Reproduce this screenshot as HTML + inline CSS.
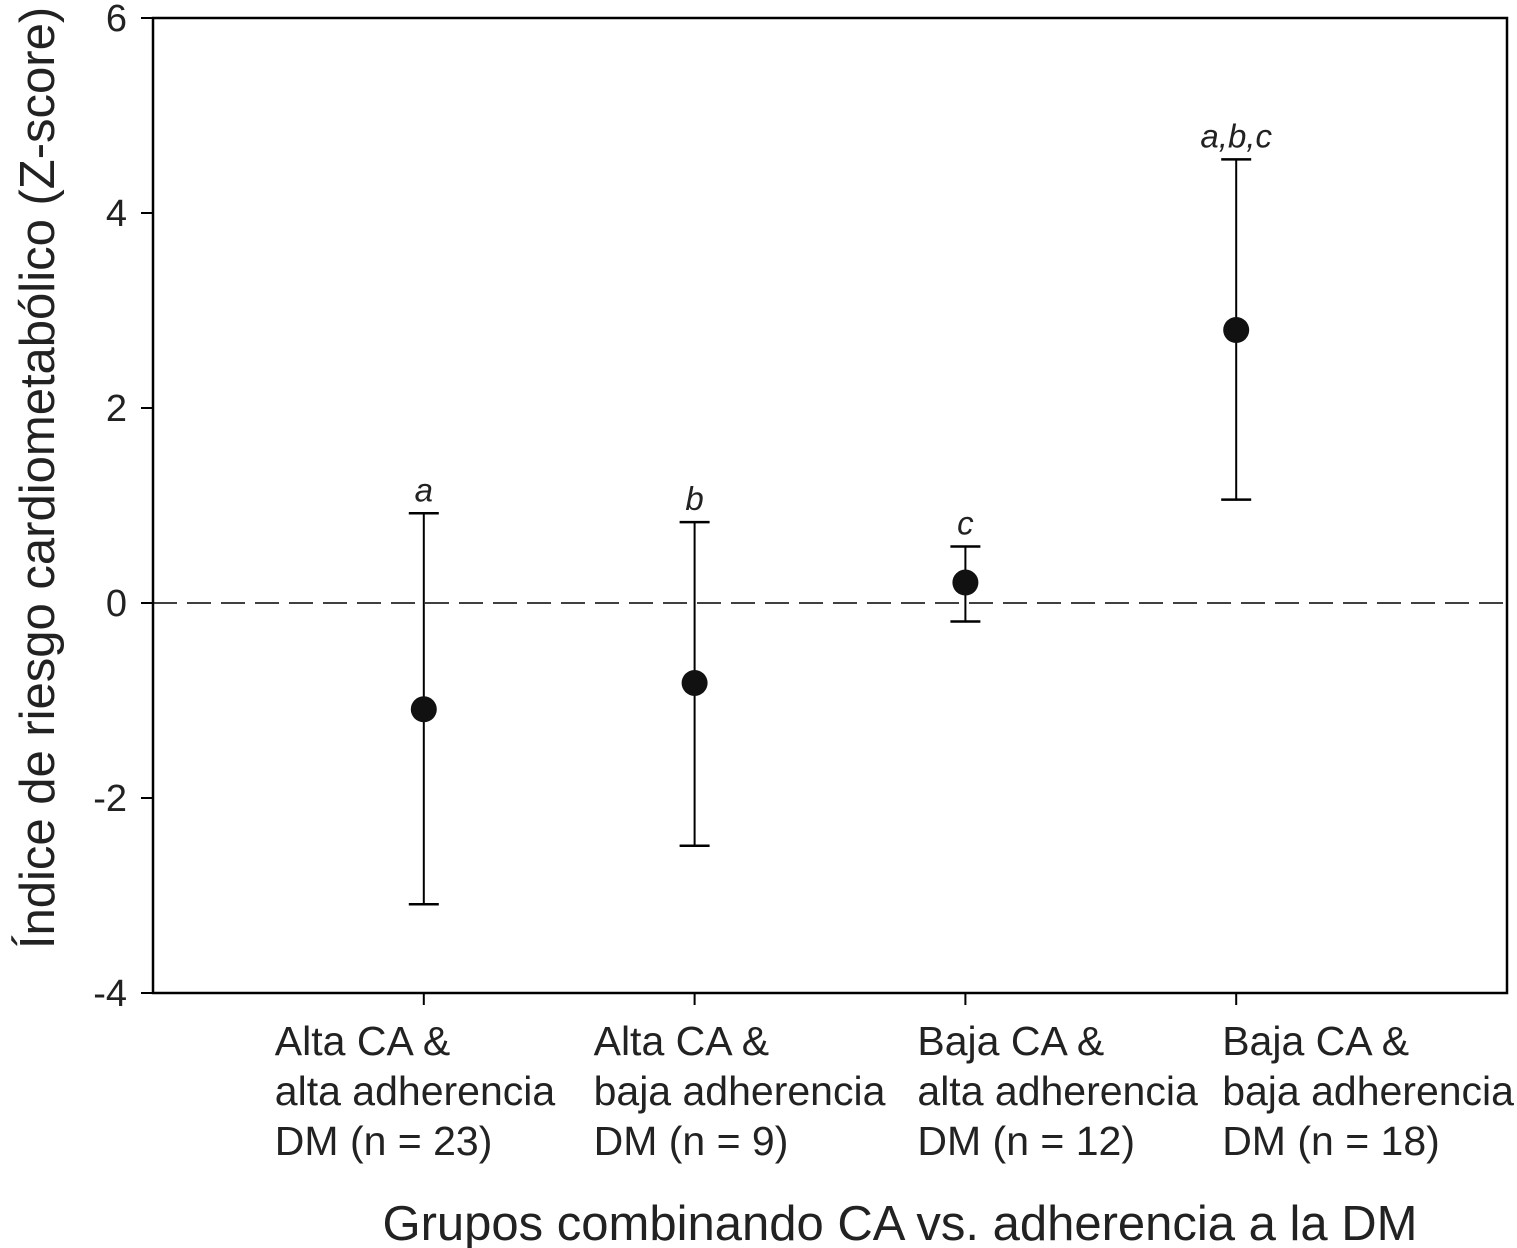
<!DOCTYPE html>
<html><head><meta charset="utf-8">
<style>
html,body{margin:0;padding:0;background:#fff;}
svg{display:block;font-family:"Liberation Sans",sans-serif;}
</style></head>
<body>
<svg id="chart" width="1517" height="1248" viewBox="0 0 1517 1248" xmlns="http://www.w3.org/2000/svg"></svg>
<script>
const categories = [
  ["Alta CA &","alta adherencia","DM (n = 23)"],
  ["Alta CA &","baja adherencia","DM (n = 9)"],
  ["Baja CA &","alta adherencia","DM (n = 12)"],
  ["Baja CA &","baja adherencia","DM (n = 18)"]
];
const means = [-1.09, -0.82, 0.21, 2.80];
const upper = [0.92, 0.83, 0.58, 4.55];
const lower = [-3.09, -2.49, -0.19, 1.06];
const sigLabels = ["a","b","c","a,b,c"];
const yTicks = [6,4,2,0,-2,-4];

const L=153,R=1507,T=18,B=993;
const yMin=-4,yMax=6;
const y=v=>T+(yMax-v)/(yMax-yMin)*(B-T);
const x=i=>L+(i+1)/5*(R-L);
const labelOffsets=[-149,-101,-48,-14];
const svg=document.getElementById('chart');
const NS='http://www.w3.org/2000/svg';
function mk(tag,attrs,parent){const e=document.createElementNS(NS,tag);for(const k in attrs)e.setAttribute(k,attrs[k]);(parent||svg).appendChild(e);return e;}

const frame=mk('rect',{x:L,y:T,width:R-L,height:B-T,fill:'none',stroke:'#000','stroke-width':2.5});



const zl=mk('line',{x1:L,x2:R,y1:y(0),y2:y(0),stroke:'#000','stroke-width':1.5,'stroke-dasharray':'24,10'});



yTicks.forEach(v=>{
  const t=mk('line',{x1:L-12,x2:L,y1:y(v),y2:y(v),stroke:'#000','stroke-width':2});
  
  
  const lb=mk('text',{x:L-26,y:y(v)+13,'text-anchor':'end','font-size':38,fill:'#222'});
  lb.textContent=v;
  
  
});

categories.forEach((c,i)=>{
  const t=mk('line',{x1:x(i),x2:x(i),y1:B,y2:B+12,stroke:'#000','stroke-width':2});
  
  
  const lx=x(i)+labelOffsets[i];
  const tx=mk('text',{x:lx,y:1055,'font-size':41,fill:'#222'});
  
  
  c.forEach((line,j)=>{const ts=mk('tspan',{x:lx,dy:j?50:0},tx);ts.textContent=line;});
});

means.forEach((m,i)=>{
  const cx=x(i);
  const g=mk('g',{});
  
  
  const v=mk('line',{x1:cx,x2:cx,y1:y(upper[i]),y2:y(lower[i]),stroke:'#000','stroke-width':2},g);
  
  
  [upper[i],lower[i]].forEach(val=>{
    const cap=mk('line',{x1:cx-15,x2:cx+15,y1:y(val),y2:y(val),stroke:'#000','stroke-width':2.5},g);
    
    
  });
  const p=mk('circle',{cx:cx,cy:y(m),r:13,fill:'#111'},g);
  
  
  const s=mk('text',{x:cx,y:y(upper[i])-12,'text-anchor':'middle','font-size':33,'font-style':'italic',fill:'#222'},g);
  s.textContent=sigLabels[i];
  
  
});

const xt=mk('text',{x:900,y:1240,'text-anchor':'middle','font-size':49,fill:'#222'});
xt.textContent='Grupos combinando CA vs. adherencia a la DM';


const yt=mk('text',{x:0,y:0,'text-anchor':'middle','font-size':49,fill:'#222',transform:'translate(54,478) rotate(-90)'});
yt.textContent='Índice de riesgo cardiometabólico (Z-score)';


</script>
</body></html>
